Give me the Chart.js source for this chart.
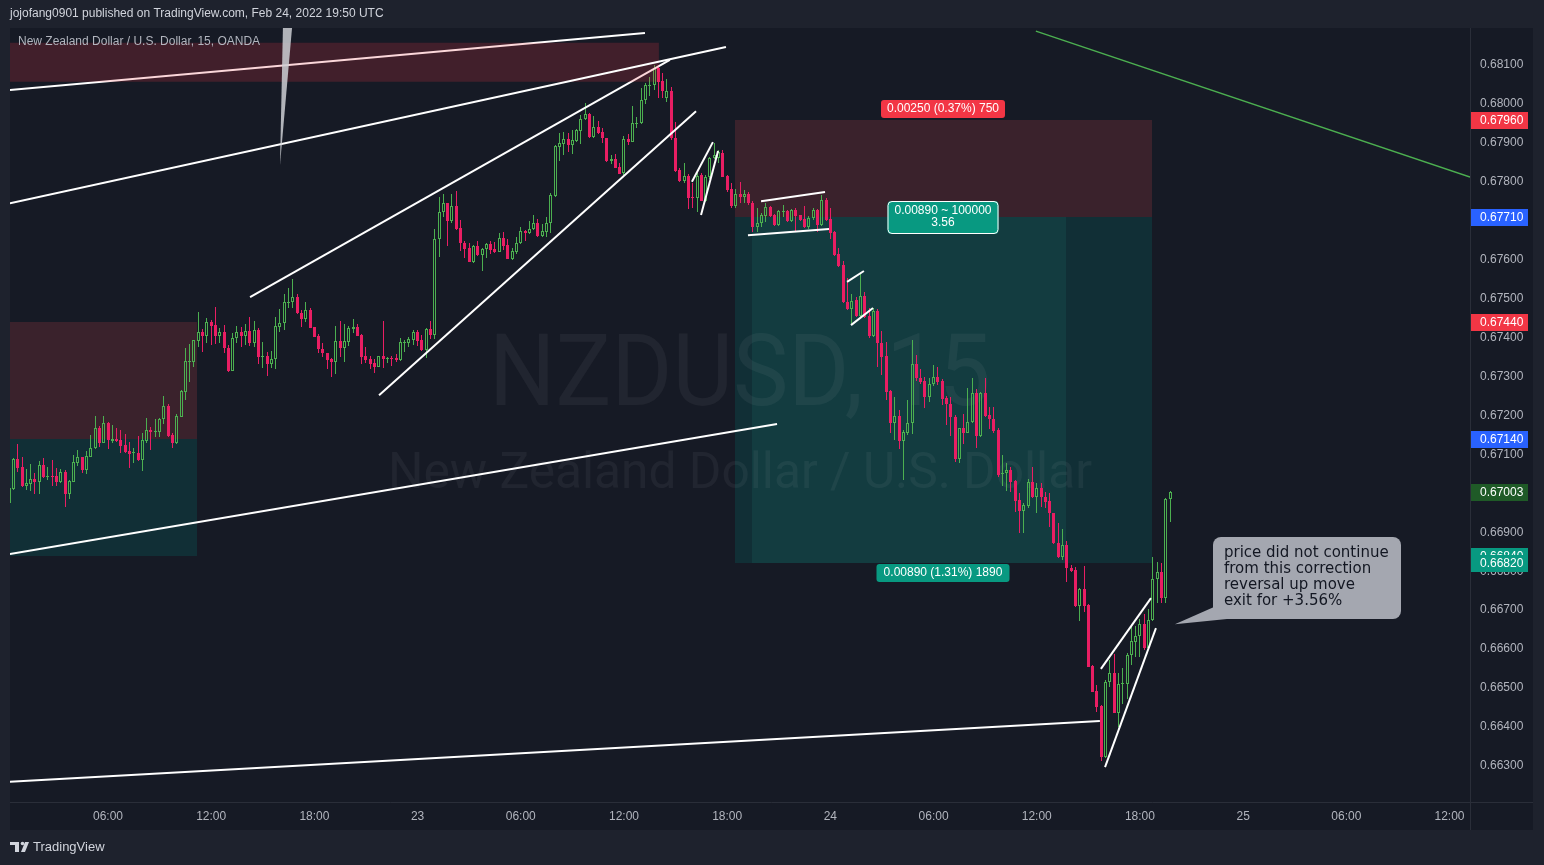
<!DOCTYPE html>
<html>
<head>
<meta charset="utf-8">
<style>
html,body{margin:0;padding:0;background:#1e222d;overflow:hidden}
canvas{display:block}
</style>
<script src="https://cdn.jsdelivr.net/npm/chart.js@4.4.1/dist/chart.umd.min.js"></script>
</head>
<body>
<canvas id="c" width="1544" height="865" style="width:1544px;height:865px"></canvas>
<script>
// ---------------- DATA (NZDUSD 15m, OANDA, Feb 22 00:15 UTC onward) ----------------
const firstBarHour = 0.25;      // hours after Feb 22 00:00 UTC
const barStepHours = 0.25;      // 15 minutes

const opens = [
0.66975,0.67011,0.67088,0.67068,0.67019,0.67024,0.67037,0.67029,0.67073,0.67042,
0.67045,0.67045,0.67029,0.67055,0.66998,0.67029,0.67078,0.67093,0.67060,0.67093,
0.67116,0.67167,0.67129,0.67180,0.67134,0.67140,0.67137,0.67124,0.67108,0.67103,
0.67103,0.67086,0.67134,0.67163,0.67158,0.67158,0.67191,0.67224,0.67150,0.67129,
0.67196,0.67260,0.67337,0.67337,0.67391,0.67414,0.67404,0.67440,0.67432,0.67404,
0.67414,0.67373,0.67314,0.67399,0.67414,0.67404,0.67417,0.67386,0.67419,0.67350,
0.67353,0.67332,0.67345,0.67427,0.67437,0.67489,0.67492,0.67504,0.67463,0.67448,
0.67471,0.67427,0.67404,0.67371,0.67360,0.67345,0.67337,0.67391,0.67373,0.67389,
0.67422,0.67427,0.67407,0.67353,0.67345,0.67334,0.67324,0.67353,0.67345,0.67347,
0.67347,0.67342,0.67386,0.67386,0.67394,0.67414,0.67394,0.67368,0.67422,0.67407,
0.67653,0.67723,0.67745,0.67699,0.67738,0.67681,0.67643,0.67630,0.67594,0.67635,
0.67612,0.67628,0.67641,0.67628,0.67620,0.67656,0.67638,0.67602,0.67620,0.67643,
0.67674,0.67668,0.67679,0.67694,0.67661,0.67671,0.67694,0.67764,0.67889,0.67897,
0.67910,0.67895,0.67905,0.67930,0.67961,0.67974,0.67915,0.67941,0.67928,0.67913,
0.67853,0.67859,0.67838,0.67823,0.67910,0.67902,0.67949,0.67951,0.68010,0.68046,
0.68049,0.68092,0.68059,0.68015,0.68033,0.67913,0.67830,0.67802,0.67815,0.67761,
0.67758,0.67818,0.67751,0.67812,0.67861,0.67861,0.67874,0.67815,0.67782,0.67738,
0.67769,0.67761,0.67769,0.67745,0.67684,0.67694,0.67712,0.67735,0.67715,0.67689,
0.67723,0.67725,0.67699,0.67728,0.67715,0.67704,0.67684,0.67707,0.67728,0.67689,
0.67753,0.67704,0.67671,0.67615,0.67587,0.67492,0.67474,0.67497,0.67456,0.67507,
0.67456,0.67404,0.67468,0.67386,0.67353,0.67262,0.67180,0.67199,0.67134,0.67155,
0.67180,0.67332,0.67296,0.67289,0.67247,0.67281,0.67299,0.67289,0.67245,0.67230,
0.67196,0.67088,0.67167,0.67155,0.67183,0.67258,0.67148,0.67258,0.67201,0.67191,
0.67163,0.67050,0.67052,0.67060,0.67031,0.66983,0.66955,0.66967,0.67029,0.66990,
0.67013,0.66990,0.66980,0.66949,0.66872,0.66836,0.66867,0.66808,0.66803,0.66710,
0.66754,0.66713,0.66557,0.66492,0.66454,0.66323,0.66516,0.66539,0.66436,0.66511,
0.66511,0.66585,0.66618,0.66634,0.66665,0.66603,0.66675,0.66780,0.66798,0.66731,
0.66985];

const highs = [
0.67019,0.67090,0.67127,0.67093,0.67063,0.67076,0.67052,0.67083,0.67090,0.67068,
0.67086,0.67065,0.67063,0.67060,0.67034,0.67098,0.67111,0.67093,0.67108,0.67150,
0.67199,0.67173,0.67199,0.67183,0.67175,0.67167,0.67163,0.67153,0.67132,0.67116,
0.67148,0.67155,0.67193,0.67170,0.67191,0.67193,0.67250,0.67230,0.67155,0.67204,
0.67265,0.67373,0.67384,0.67394,0.67466,0.67422,0.67450,0.67445,0.67479,0.67424,
0.67432,0.67381,0.67412,0.67430,0.67427,0.67435,0.67453,0.67442,0.67424,0.67389,
0.67363,0.67365,0.67453,0.67474,0.67512,0.67527,0.67551,0.67512,0.67471,0.67492,
0.67476,0.67427,0.67409,0.67386,0.67360,0.67347,0.67430,0.67442,0.67435,0.67430,
0.67448,0.67435,0.67409,0.67376,0.67353,0.67345,0.67353,0.67442,0.67350,0.67353,
0.67358,0.67399,0.67394,0.67401,0.67419,0.67419,0.67407,0.67424,0.67442,0.67679,
0.67761,0.67769,0.67745,0.67769,0.67776,0.67702,0.67648,0.67643,0.67638,0.67648,
0.67630,0.67643,0.67648,0.67646,0.67668,0.67671,0.67653,0.67630,0.67658,0.67684,
0.67676,0.67699,0.67715,0.67704,0.67692,0.67710,0.67771,0.67895,0.67925,0.67928,
0.67925,0.67933,0.67936,0.67971,0.68002,0.67977,0.67969,0.67956,0.67938,0.67913,
0.67869,0.67872,0.67848,0.67918,0.67923,0.67995,0.67966,0.68041,0.68054,0.68069,
0.68100,0.68100,0.68079,0.68064,0.68044,0.67954,0.67835,0.67848,0.67820,0.67797,
0.67823,0.67823,0.67818,0.67864,0.67900,0.67882,0.67882,0.67818,0.67797,0.67782,
0.67800,0.67779,0.67774,0.67751,0.67733,0.67720,0.67745,0.67738,0.67717,0.67728,
0.67740,0.67728,0.67730,0.67733,0.67715,0.67738,0.67712,0.67733,0.67730,0.67766,
0.67758,0.67733,0.67674,0.67630,0.67597,0.67553,0.67512,0.67504,0.67566,0.67517,
0.67476,0.67476,0.67474,0.67417,0.67389,0.67265,0.67247,0.67214,0.67163,0.67240,
0.67394,0.67355,0.67319,0.67299,0.67296,0.67330,0.67324,0.67294,0.67250,0.67247,
0.67201,0.67167,0.67204,0.67270,0.67296,0.67268,0.67260,0.67296,0.67222,0.67222,
0.67167,0.67098,0.67078,0.67068,0.67034,0.67000,0.66975,0.67037,0.67068,0.67026,
0.67026,0.67003,0.67000,0.66949,0.66924,0.66908,0.66877,0.66816,0.66811,0.66757,
0.66813,0.66716,0.66559,0.66508,0.66457,0.66521,0.66572,0.66588,0.66539,0.66552,
0.66590,0.66657,0.66659,0.66677,0.66690,0.66703,0.66836,0.66824,0.66821,0.66988,
0.67005];

const lows = [
0.66970,0.67008,0.67055,0.67016,0.67008,0.67005,0.66998,0.66998,0.67039,0.67034,
0.67019,0.67019,0.67026,0.66965,0.66985,0.67029,0.67071,0.67052,0.67050,0.67093,
0.67114,0.67119,0.67129,0.67114,0.67129,0.67132,0.67103,0.67103,0.67065,0.67078,
0.67083,0.67057,0.67129,0.67111,0.67145,0.67145,0.67178,0.67145,0.67116,0.67127,
0.67196,0.67240,0.67286,0.67324,0.67376,0.67363,0.67386,0.67381,0.67384,0.67386,
0.67360,0.67312,0.67314,0.67386,0.67376,0.67381,0.67378,0.67376,0.67332,0.67322,
0.67302,0.67322,0.67319,0.67414,0.67419,0.67476,0.67476,0.67461,0.67427,0.67440,
0.67424,0.67401,0.67360,0.67350,0.67319,0.67299,0.67307,0.67350,0.67337,0.67378,
0.67412,0.67404,0.67332,0.67334,0.67319,0.67309,0.67324,0.67322,0.67334,0.67327,
0.67337,0.67339,0.67363,0.67376,0.67381,0.67378,0.67365,0.67347,0.67396,0.67396,
0.67607,0.67710,0.67635,0.67694,0.67676,0.67622,0.67604,0.67594,0.67591,0.67610,
0.67571,0.67604,0.67615,0.67617,0.67620,0.67625,0.67602,0.67599,0.67615,0.67641,
0.67648,0.67666,0.67676,0.67658,0.67658,0.67658,0.67668,0.67761,0.67853,0.67869,
0.67877,0.67872,0.67902,0.67897,0.67959,0.67913,0.67913,0.67923,0.67900,0.67851,
0.67846,0.67835,0.67820,0.67818,0.67895,0.67902,0.67938,0.67949,0.68000,0.68020,
0.68036,0.68015,0.68015,0.68005,0.67907,0.67825,0.67800,0.67797,0.67730,0.67733,
0.67723,0.67751,0.67748,0.67807,0.67859,0.67848,0.67812,0.67774,0.67733,0.67733,
0.67745,0.67745,0.67740,0.67671,0.67671,0.67684,0.67697,0.67710,0.67686,0.67686,
0.67710,0.67697,0.67697,0.67674,0.67699,0.67681,0.67679,0.67702,0.67671,0.67686,
0.67699,0.67653,0.67610,0.67581,0.67489,0.67471,0.67435,0.67453,0.67453,0.67450,
0.67399,0.67401,0.67324,0.67304,0.67240,0.67155,0.67137,0.67114,0.67034,0.67150,
0.67153,0.67289,0.67281,0.67219,0.67235,0.67276,0.67278,0.67227,0.67175,0.67148,
0.67081,0.67078,0.67127,0.67155,0.67180,0.67116,0.67145,0.67196,0.67165,0.67155,
0.67042,0.67019,0.67005,0.67003,0.66952,0.66898,0.66898,0.66962,0.66988,0.66949,
0.66965,0.66962,0.66913,0.66870,0.66834,0.66829,0.66772,0.66798,0.66708,0.66672,
0.66695,0.66554,0.66490,0.66439,0.66313,0.66321,0.66503,0.66436,0.66400,0.66459,
0.66472,0.66559,0.66580,0.66580,0.66598,0.66600,0.66672,0.66718,0.66718,0.66718,
0.66926];

const closes = [
0.67013,0.67088,0.67065,0.67019,0.67026,0.67037,0.67029,0.67073,0.67042,0.67045,
0.67042,0.67029,0.67055,0.66998,0.67031,0.67081,0.67093,0.67060,0.67096,0.67116,
0.67167,0.67129,0.67180,0.67137,0.67140,0.67134,0.67122,0.67106,0.67101,0.67106,
0.67086,0.67137,0.67163,0.67158,0.67160,0.67191,0.67224,0.67148,0.67129,0.67199,
0.67262,0.67339,0.67339,0.67394,0.67414,0.67404,0.67440,0.67430,0.67404,0.67414,
0.67373,0.67314,0.67399,0.67414,0.67404,0.67417,0.67386,0.67419,0.67350,0.67353,
0.67332,0.67345,0.67430,0.67437,0.67492,0.67492,0.67504,0.67463,0.67448,0.67471,
0.67424,0.67401,0.67371,0.67360,0.67342,0.67337,0.67391,0.67373,0.67391,0.67424,
0.67427,0.67404,0.67350,0.67342,0.67332,0.67324,0.67353,0.67345,0.67347,0.67345,
0.67342,0.67389,0.67389,0.67396,0.67414,0.67391,0.67368,0.67422,0.67407,0.67653,
0.67723,0.67745,0.67699,0.67738,0.67679,0.67643,0.67628,0.67594,0.67635,0.67612,
0.67628,0.67641,0.67625,0.67620,0.67656,0.67635,0.67602,0.67622,0.67643,0.67674,
0.67668,0.67679,0.67694,0.67661,0.67674,0.67694,0.67766,0.67892,0.67900,0.67910,
0.67895,0.67907,0.67933,0.67961,0.67974,0.67915,0.67941,0.67925,0.67913,0.67853,
0.67859,0.67835,0.67820,0.67910,0.67902,0.67951,0.67951,0.68010,0.68049,0.68049,
0.68092,0.68057,0.68033,0.68033,0.67913,0.67828,0.67802,0.67815,0.67758,0.67758,
0.67815,0.67751,0.67812,0.67861,0.67869,0.67877,0.67812,0.67779,0.67738,0.67769,
0.67761,0.67769,0.67745,0.67684,0.67694,0.67715,0.67735,0.67712,0.67689,0.67725,
0.67725,0.67699,0.67728,0.67712,0.67702,0.67684,0.67707,0.67728,0.67689,0.67753,
0.67702,0.67668,0.67612,0.67584,0.67492,0.67474,0.67494,0.67456,0.67507,0.67453,
0.67404,0.67468,0.67386,0.67350,0.67260,0.67180,0.67199,0.67134,0.67158,0.67180,
0.67332,0.67296,0.67286,0.67247,0.67281,0.67299,0.67286,0.67242,0.67230,0.67196,
0.67088,0.67167,0.67155,0.67183,0.67258,0.67148,0.67258,0.67199,0.67191,0.67160,
0.67047,0.67052,0.67060,0.67029,0.66980,0.66955,0.66970,0.67029,0.66990,0.67013,
0.66990,0.66978,0.66949,0.66872,0.66836,0.66867,0.66808,0.66800,0.66710,0.66754,
0.66710,0.66554,0.66490,0.66451,0.66323,0.66516,0.66539,0.66436,0.66511,0.66513,
0.66585,0.66621,0.66634,0.66665,0.66603,0.66675,0.66780,0.66798,0.66731,0.66985,
0.67003];

// axis ticks
const timeTicks = [6,12,18,24,30,36,42,48,54,60,66,72,78,84];
const timeTickLabels = ['06:00','12:00','18:00','23','06:00','12:00','18:00','24','06:00','12:00','18:00','25','06:00','12:00'];
const priceTicks = [0.663,0.664,0.665,0.666,0.667,0.668,0.669,0.670,0.671,0.672,0.673,0.674,0.675,0.676,0.677,0.678,0.679,0.680,0.681];
const visibleHours = [0.302, 85.19];
const visiblePrices = [0.662073, 0.681950];

// drawings: [startHour, startPrice, endHour, endPrice]
const linesUnderBand = [[0.30,0.68036,37.22,0.68182],[14.26,0.67504,38.67,0.68113]];
const linesWhite = [
  [0.30,0.67745,41.93,0.68146],
  [0.30,0.66844,44.90,0.67178],
  [0.30,0.66259,63.67,0.66415],
  [21.76,0.67252,40.19,0.67981],
  [39.95,0.67800,41.17,0.67902],
  [40.48,0.67715,41.47,0.67879],
  [43.97,0.67750,47.69,0.67774],
  [43.21,0.67663,47.92,0.67679],
  [48.97,0.67543,49.95,0.67571],
  [49.20,0.67432,50.48,0.67476],
  [63.73,0.66549,66.64,0.66731],
  [63.97,0.66297,66.93,0.66654]
];
const lineGreen = [59.95,0.68187,85.19,0.67812];
const topBandHours = [0, 38.03];
const topBandPrices = [0.68157, 0.68057];
const needleHours = [16.17, 16.70, 16.00];
const needlePrices = [0.68195, 0.68195, 0.67843];

// position tools
const positionStart = [-2, 42.45];
const positionEnd = [11.17, 66.70];
const positionEntry = [0.67140, 0.67710];
const positionStop = [0.67440, 0.67960];
const positionTarget = [0.66840, 0.66820];
const positionHitFrom = [null, 43.44];
const positionHitTo = [null, 61.70];
const stopLabelText = '0.00250 (0.37%) 750';
const entryLabelText = ['0.00890 ~ 100000', '3.56'];
const targetLabelText = '0.00890 (1.31%) 1890';

// price scale markers
const markerPrices = [0.67960, 0.67710, 0.67440, 0.67140, 0.67003, 0.66840, 0.66820];
const markerKinds  = ['stop','entry','stop','entry','last','target','target'];

// callout
const calloutAnchor = [68.03, 0.66664];
const calloutText = ['price did not continue','from this correction','reversal up move','exit for +3.56%'];

const headerText = 'jojofang0901 published on TradingView.com, Feb 24, 2022 19:50 UTC';
const legendText = 'New Zealand Dollar / U.S. Dollar, 15, OANDA';
const watermarkMain = 'NZDUSD, 15';
const watermarkSub = 'New Zealand Dollar / U.S. Dollar';

// ---------------- STYLE ----------------
const PAGE_BG = '#1e222d', CHART_BG = '#161a25', SEP = '#2a2e39';
const UP = '#4caf50', DOWN = '#e91e63';
const FONT = "'Liberation Sans', Arial, sans-serif";
const AXIS_W = 63, TIME_H = 28;
const markerColors = {stop:'#f23645', entry:'#2962ff', last:'#1f5a27', target:'#089981'};

// ---------------- BUILD ----------------
const times = opens.map((_, i) => firstBarHour + i * barStepHours);
const isUp = closes.map((c, i) => c >= opens[i]);
const candleColor = isUp.map(u => u ? UP : DOWN);

const lineDs = (seg, color, width, order) => ({
  type: 'line',
  data: [{x: seg[0], y: seg[1]}, {x: seg[2], y: seg[3]}],
  borderColor: color, borderWidth: width, pointRadius: 0, fill: false,
  tension: 0, order: order
});

const datasets = [];
linesUnderBand.forEach(s => datasets.push(lineDs(s, '#ffffff', 2, 8)));
datasets.push({
  type: 'line',
  data: [{x: topBandHours[0], y: topBandPrices[0]}, {x: topBandHours[1], y: topBandPrices[0]}],
  borderWidth: 0, borderColor: 'rgba(0,0,0,0)', pointRadius: 0,
  fill: {value: topBandPrices[1]}, backgroundColor: 'rgba(242,54,69,0.2)', order: 6
});
linesWhite.forEach(s => datasets.push(lineDs(s, '#ffffff', 2, 1)));
datasets.push(lineDs(lineGreen, '#4caf50', 1.5, 1));

const barCommon = {type: 'bar', grouped: false, inflateAmount: 0, order: 10};
datasets.push(Object.assign({}, barCommon, {
  data: times.map((t, i) => ({x: t, y: [Math.max(opens[i], closes[i]), highs[i]]})),
  backgroundColor: candleColor, borderWidth: 0, barThickness: 1
}));
datasets.push(Object.assign({}, barCommon, {
  data: times.map((t, i) => ({x: t, y: [lows[i], Math.min(opens[i], closes[i])]})),
  backgroundColor: candleColor, borderWidth: 0, barThickness: 1
}));
datasets.push(Object.assign({}, barCommon, {
  data: times.map((t, i) => ({x: t, y: [opens[i], closes[i]]})),
  backgroundColor: isUp.map(u => u ? 'rgba(0,0,0,0)' : DOWN),
  borderColor: candleColor, borderWidth: 1, borderSkipped: false,
  barThickness: 3, minBarLength: 1
}));

function rrect(ctx, x, y, w, h, r) {
  ctx.beginPath();
  ctx.moveTo(x + r, y);
  ctx.arcTo(x + w, y, x + w, y + h, r);
  ctx.arcTo(x + w, y + h, x, y + h, r);
  ctx.arcTo(x, y + h, x, y, r);
  ctx.arcTo(x, y, x + w, y, r);
  ctx.closePath();
}

function fittedText(ctx, text, cx, baseline, font, targetW) {
  ctx.font = font;
  const w = ctx.measureText(text).width;
  ctx.save();
  ctx.translate(cx, baseline);
  ctx.scale(targetW / w, 1);
  ctx.textAlign = 'center';
  ctx.textBaseline = 'alphabetic';
  ctx.fillText(text, 0, 0);
  ctx.restore();
}

// snap the library-computed bar rectangles to whole pixels so candles stay crisp
function snapBars(chart) {
  chart.getSortedVisibleDatasetMetas().forEach(meta => {
    if (meta.type !== 'bar') return;
    meta.data.forEach(el => {
      el.x = Math.floor(el.x) + 0.5;
      let top = Math.round(el.y), base = Math.round(el.base);
      if (meta.index === chart.data.datasets.length - 1 && Math.abs(top - base) < 1) base = top + 1;
      el.y = top; el.base = base;
    });
  });
}

const decor = {
  id: 'decor',
  beforeDraw(chart) {
    const {ctx, chartArea: ca} = chart;
    ctx.save();
    ctx.fillStyle = PAGE_BG;
    ctx.fillRect(0, 0, chart.width, chart.height);
    ctx.fillStyle = CHART_BG;
    ctx.fillRect(ca.left, ca.top, ca.right - ca.left + AXIS_W, ca.bottom - ca.top + TIME_H);
    ctx.restore();
  },
  beforeDatasetsDraw(chart) {
    snapBars(chart);
    const {ctx, chartArea: ca, scales: {x, y}} = chart;
    ctx.save();
    ctx.beginPath();
    ctx.rect(ca.left, ca.top, ca.right - ca.left, ca.bottom - ca.top);
    ctx.clip();
    for (let k = 0; k < positionStart.length; k++) {
      const x1 = Math.round(x.getPixelForValue(positionStart[k]));
      const x2 = Math.round(x.getPixelForValue(positionEnd[k]));
      const ys = Math.round(y.getPixelForValue(positionStop[k]));
      const ye = Math.round(y.getPixelForValue(positionEntry[k]));
      const yt = Math.round(y.getPixelForValue(positionTarget[k]));
      ctx.fillStyle = '#3a222c';
      ctx.fillRect(x1, ys, x2 - x1, ye - ys);
      ctx.fillStyle = '#112f36';
      ctx.fillRect(x1, ye, x2 - x1, yt - ye);
      if (positionHitFrom[k] !== null) {
        const h1 = Math.round(x.getPixelForValue(positionHitFrom[k]));
        const h2 = Math.round(x.getPixelForValue(positionHitTo[k]));
        ctx.fillStyle = '#133c40';
        ctx.fillRect(h1, ye, h2 - h1, yt - ye);
      }
    }
    // watermark
    const cx = (ca.left + ca.right) / 2, cy = (ca.top + ca.bottom) / 2;
    ctx.fillStyle = 'rgba(255,255,255,0.05)';
    fittedText(ctx, watermarkMain, cx, cy - 10, '100px Roboto', 502);
    fittedText(ctx, watermarkSub, cx, cy + 73, '50px Roboto', 704);
    ctx.restore();
  },
  afterDatasetsDraw(chart) {
    const {ctx, chartArea: ca, scales: {x, y}} = chart;
    ctx.save();
    ctx.beginPath();
    ctx.rect(ca.left, ca.top, ca.right - ca.left, ca.bottom - ca.top);
    ctx.clip();
    // needle drawing
    ctx.fillStyle = 'rgba(205,207,212,0.85)';
    ctx.beginPath();
    needleHours.forEach((h, i) => {
      const px = x.getPixelForValue(h), py = y.getPixelForValue(needlePrices[i]);
      if (i === 0) ctx.moveTo(px, py); else ctx.lineTo(px, py);
    });
    ctx.closePath();
    ctx.fill();

    // legend
    ctx.font = '12px ' + FONT;
    ctx.fillStyle = '#b2b5be';
    ctx.textAlign = 'left';
    ctx.textBaseline = 'middle';
    ctx.fillText(legendText, ca.left + 8, ca.top + 14);

    // main position labels
    const k = 1;
    const mx = Math.round((x.getPixelForValue(positionStart[k]) + x.getPixelForValue(positionEnd[k])) / 2);
    const ys = Math.round(y.getPixelForValue(positionStop[k]));
    const ye = Math.round(y.getPixelForValue(positionEntry[k]));
    const yt = Math.round(y.getPixelForValue(positionTarget[k]));
    ctx.font = '12px ' + FONT;
    ctx.textAlign = 'center';
    ctx.textBaseline = 'middle';
    let w = Math.round(ctx.measureText(stopLabelText).width + 12);
    ctx.fillStyle = '#f23645';
    rrect(ctx, mx - w / 2, ys - 20, w, 18, 3); ctx.fill();
    ctx.fillStyle = '#ffffff';
    ctx.fillText(stopLabelText, mx, ys - 11);

    w = Math.round(ctx.measureText(targetLabelText).width + 14);
    ctx.fillStyle = '#089981';
    rrect(ctx, mx - w / 2, yt + 1, w, 18, 3); ctx.fill();
    ctx.fillStyle = '#ffffff';
    ctx.fillText(targetLabelText, mx, yt + 10);

    w = Math.round(ctx.measureText(entryLabelText[0]).width + 14);
    ctx.fillStyle = '#089981';
    rrect(ctx, mx - w / 2, ye - 16, w, 33, 4); ctx.fill();
    ctx.strokeStyle = '#ffffff'; ctx.lineWidth = 1;
    rrect(ctx, mx - w / 2 + 0.5, ye - 15.5, w - 1, 32, 4); ctx.stroke();
    ctx.fillStyle = '#ffffff';
    ctx.fillText(entryLabelText[0], mx, ye - 6);
    ctx.fillText(entryLabelText[1], mx, ye + 6);

    // callout
    const tx = x.getPixelForValue(calloutAnchor[0]);
    const ty = y.getPixelForValue(calloutAnchor[1]);
    const bx = Math.round(tx + 38), by = Math.round(ty - 87), bw = 188, bh = 82;
    ctx.fillStyle = '#a4a7b0';
    rrect(ctx, bx, by, bw, bh, 8); ctx.fill();
    ctx.beginPath();
    ctx.moveTo(bx + 1, by + bh - 12);
    ctx.lineTo(tx, ty);
    ctx.lineTo(bx + 14, by + bh);
    ctx.closePath();
    ctx.fill();
    ctx.fillStyle = '#131722';
    ctx.font = '15px "DejaVu Sans", Verdana, sans-serif';
    ctx.textAlign = 'left';
    ctx.textBaseline = 'middle';
    calloutText.forEach((t, i) => ctx.fillText(t, bx + 11, by + 16 + i * 16));
    ctx.restore();
  },
  afterDraw(chart) {
    const {ctx, chartArea: ca, scales: {y}} = chart;
    ctx.save();
    // separators
    ctx.strokeStyle = SEP; ctx.lineWidth = 1;
    ctx.beginPath();
    ctx.moveTo(ca.right + 0.5, ca.top); ctx.lineTo(ca.right + 0.5, ca.bottom + TIME_H);
    ctx.moveTo(ca.left, ca.bottom + 0.5); ctx.lineTo(ca.right + AXIS_W, ca.bottom + 0.5);
    ctx.stroke();
    // price markers
    ctx.font = '12px ' + FONT;
    ctx.textAlign = 'left';
    ctx.textBaseline = 'middle';
    markerPrices.forEach((p, i) => {
      const py = Math.round(y.getPixelForValue(p));
      ctx.fillStyle = markerColors[markerKinds[i]];
      ctx.fillRect(ca.right + 1, py - 8, 57, 17);
      ctx.fillStyle = '#ffffff';
      ctx.fillText(p.toFixed(5), ca.right + 10, py + 0.5);
    });
    // header
    ctx.fillStyle = '#d1d4dc';
    ctx.font = '12px ' + FONT;
    ctx.fillText(headerText, 10, 14);
    // footer logo
    const fy = ca.bottom + TIME_H + 17;
    ctx.fillStyle = '#d1d4dc';
    ctx.fillRect(10, fy - 5, 9, 3);
    ctx.fillRect(15, fy - 5, 4, 10);
    ctx.beginPath(); ctx.arc(22.5, fy - 3.5, 1.8, 0, Math.PI * 2); ctx.fill();
    ctx.beginPath();
    ctx.moveTo(25, fy - 5); ctx.lineTo(29, fy - 5); ctx.lineTo(25, fy + 5); ctx.lineTo(21, fy + 5);
    ctx.closePath(); ctx.fill();
    ctx.font = '13px ' + FONT;
    ctx.fillText('TradingView', 33, fy);
    ctx.restore();
  }
};

new Chart(document.getElementById('c'), {
  type: 'bar',
  data: {datasets},
  options: {
    responsive: false,
    animation: false,
    devicePixelRatio: 1,
    layout: {padding: {left: 10, top: 28, right: 11, bottom: 35}},
    plugins: {legend: {display: false}, tooltip: {enabled: false}},
    scales: {
      x: {
        type: 'linear', min: visibleHours[0], max: visibleHours[1], offset: false,
        grid: {display: false, drawTicks: false}, border: {display: false},
        afterBuildTicks: s => { s.ticks = timeTicks.map(v => ({value: v})); },
        afterFit: s => { s.height = TIME_H; },
        ticks: {
          autoSkip: false, maxRotation: 0, padding: 7, color: '#b2b5be',
          font: {family: FONT, size: 12},
          callback: v => { const i = timeTicks.indexOf(v); return i >= 0 ? timeTickLabels[i] : ''; }
        }
      },
      y: {
        type: 'linear', position: 'right', min: visiblePrices[0], max: visiblePrices[1],
        grid: {display: false, drawTicks: false}, border: {display: false},
        afterBuildTicks: s => { s.ticks = priceTicks.map(v => ({value: v})); },
        afterFit: s => { s.width = AXIS_W; },
        ticks: {padding: 10, color: '#b2b5be', font: {family: FONT, size: 12}, callback: v => Number(v).toFixed(5)}
      }
    }
  },
  plugins: [decor]
});
</script>
</body>
</html>
